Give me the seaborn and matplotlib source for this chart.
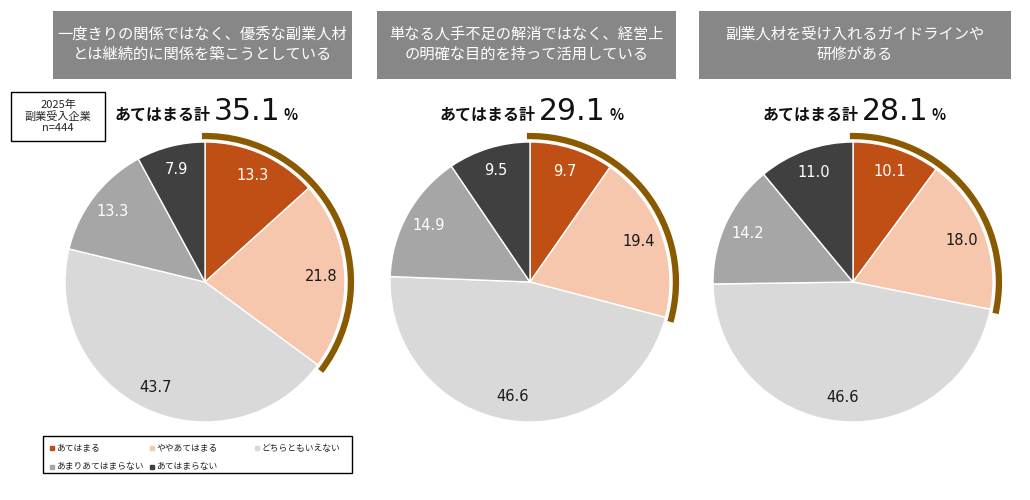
import matplotlib
matplotlib.use("Agg")
import matplotlib.pyplot as plt
from matplotlib.patches import Rectangle, Wedge
from matplotlib.lines import Line2D
import seaborn as sns

# Data
categories = ["あてはまる", "ややあてはまる", "どちらともいえない", "あまりあてはまらない", "あてはまらない"]
titles = [
    "一度きりの関係ではなく、優秀な副業人材\nとは継続的に関係を築こうとしている",
    "単なる人手不足の解消ではなく、経営上\nの明確な目的を持って活用している",
    "副業人材を受け入れるガイドラインや\n研修がある",
]
q1_values = [13.3, 21.8, 43.7, 13.3, 7.9]
q2_values = [9.7, 19.4, 46.6, 14.9, 9.5]
q3_values = [10.1, 18.0, 46.6, 14.2, 11.0]
totals = [35.1, 29.1, 28.1]
all_values = [q1_values, q2_values, q3_values]

sns.set_theme(style="white")
plt.rcParams["font.family"] = ["Noto Sans CJK JP", "DejaVu Sans"]
num_font = ["DejaVu Sans"]

colors = sns.color_palette(["#C04F15", "#F6C6AD", "#D9D9D9", "#A6A6A6", "#404040"])
label_colors = ["white", "#1a1a1a", "#1a1a1a", "white", "white"]
arc_color = "#8A5A00"

W, H = 1030, 500
fig = plt.figure(figsize=(W / 100, H / 100), dpi=100)


def fx(x):
    return x / W


def fy(y):
    return 1 - y / H


# pixel layout
centers_x = [205, 530, 853]
center_y = 282
radius_px = 140
title_boxes = [(53, 352), (377, 676), (699, 1011)]
lim = 1.15

for i, vals in enumerate(all_values):
    cx = centers_x[i]
    half = lim * radius_px
    ax = fig.add_axes([fx(cx - half), fy(center_y + half), 2 * half / W, 2 * half / H])
    wedges, texts = ax.pie(
        vals,
        colors=colors,
        startangle=90,
        counterclock=False,
        labels=[f"{v:.1f}" for v in vals],
        labeldistance=0.83,
        wedgeprops=dict(edgecolor="white", linewidth=1.0),
        textprops=dict(fontsize=10.5, family=num_font),
    )
    for t, c in zip(texts, label_colors):
        t.set_color(c)
        t.set_ha("center")
        t.set_va("center")
    # highlight arc over the "あてはまる計" share
    share = (vals[0] + vals[1]) / sum(vals)
    ax.add_patch(Wedge((0, 0), 1.065, 90 - 360 * share - 1.2, 91.2,
                       width=0.045, color=arc_color, lw=0))
    ax.set_xlim(-lim, lim)
    ax.set_ylim(-lim, lim)
    ax.set_aspect("equal")
    ax.axis("off")

    # title box
    x0, x1 = title_boxes[i]
    fig.patches.append(Rectangle((fx(x0), fy(79)), (x1 - x0) / W, 68 / H,
                                 transform=fig.transFigure, facecolor="#878787",
                                 edgecolor="none"))
    fig.text(fx((x0 + x1) / 2), fy(44), titles[i], color="white", fontsize=11,
             ha="center", va="center", linespacing=1.25)

    # header "あてはまる計 xx.x%"
    hx = cx - 90
    fig.text(fx(hx), fy(120), "あてはまる計", fontsize=11.5, fontweight="bold",
             ha="left", va="baseline", color="#111111")
    fig.text(fx(hx + 99), fy(120), f"{totals[i]:.1f}", fontsize=21.5,
             family=num_font, ha="left", va="baseline", color="#111111")
    fig.text(fx(hx + 169), fy(120), "%", fontsize=10.5, fontweight="bold",
             ha="left", va="baseline", color="#111111")

# sample info box
fig.patches.append(Rectangle((fx(11), fy(141)), 94 / W, 49 / H,
                             transform=fig.transFigure, facecolor="white",
                             edgecolor="black", linewidth=1.0))
fig.text(fx(58), fy(116.5), "2025年\n副業受入企業\nn=444", fontsize=8,
         ha="center", va="center", linespacing=1.1)

# legend box, three equal columns, filled row by row
fig.patches.append(Rectangle((fx(43), fy(473)), 309 / W, 37 / H,
                             transform=fig.transFigure, facecolor="white",
                             edgecolor="black", linewidth=1.0))
col_x = [52, 152, 257]
row_y = [448, 467]
for k, (name, c) in enumerate(zip(categories, colors)):
    x = col_x[k % 3]
    y = row_y[k // 3]
    fig.lines.append(Line2D([fx(x)], [fy(y)], transform=fig.transFigure,
                            marker="s", markersize=2.5, linestyle="none",
                            markerfacecolor=c, markeredgecolor=c))
    fig.text(fx(x + 4), fy(y), name, fontsize=6.3, ha="left", va="center",
             color="#222222")

fig.savefig("out.png", dpi=100, facecolor="white")
